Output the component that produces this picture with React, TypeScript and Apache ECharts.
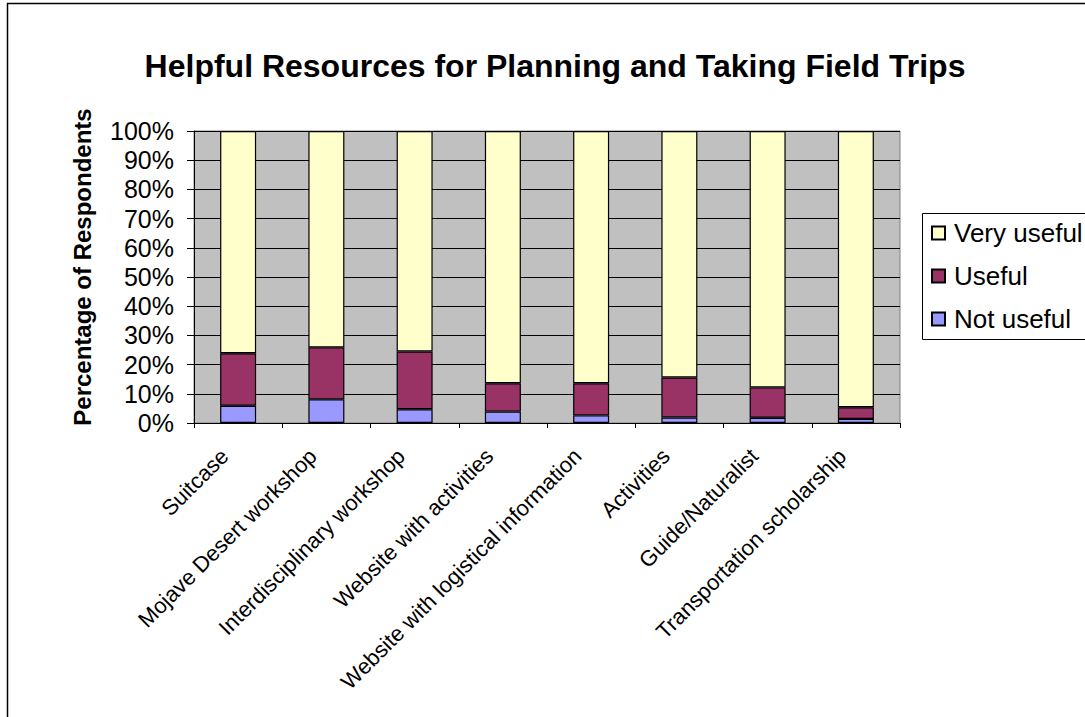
import React, { useEffect, useRef } from "react";
import * as echarts from "echarts";

const categories = [
  "Suitcase",
  "Mojave Desert workshop",
  "Interdisciplinary workshop",
  "Website with activities",
  "Website with logistical information",
  "Activities",
  "Guide/Naturalist",
  "Transportation scholarship",
];
const notUseful = [5.9, 8.1, 4.7, 3.9, 2.6, 1.9, 1.8, 1.4];
const useful = [18.0, 17.8, 19.8, 9.7, 11.0, 13.7, 10.4, 4.0];
const veryUseful = [76.1, 74.1, 75.5, 86.4, 86.4, 84.4, 87.8, 94.6];
const seriesNames = ["Not useful", "Useful", "Very useful"];
const legendOrder = ["Very useful", "Useful", "Not useful"];
const colors = ["#9999FF", "#993366", "#FFFFCC"];

const FONT = "'Liberation Sans', Arial, sans-serif";

export default function App() {
  const ref = useRef<HTMLDivElement>(null);
  useEffect(() => {
    const chart = echarts.init(ref.current!, null, { renderer: "svg" });
    const data = [notUseful, useful, veryUseful];
    chart.setOption({
      animation: false,
      backgroundColor: "#ffffff",
      textStyle: { fontFamily: FONT, color: "#000" },
      graphic: [
        {
          type: "rect",
          shape: { x: 7.5, y: 3.5, width: 1200, height: 1000 },
          style: { fill: "none", stroke: "#000", lineWidth: 1.5 },
          silent: true,
        },
        {
          type: "rect",
          shape: { x: 922.5, y: 213.5, width: 300, height: 126 },
          style: { fill: "#fff", stroke: "#000", lineWidth: 1 },
          silent: true,
        },
        {
          type: "text",
          x: 555,
          y: 66,
          style: {
            text: "Helpful Resources for Planning and Taking Field Trips",
            fontFamily: FONT,
            fontWeight: "bold",
            fontSize: 32,
            fill: "#000",
            textAlign: "center",
            textVerticalAlign: "middle",
          },
        },
        {
          type: "text",
          x: 82,
          y: 267,
          rotation: Math.PI / 2,
          style: {
            text: "Percentage of Respondents",
            fontFamily: FONT,
            fontWeight: "bold",
            fontSize: 24,
            fill: "#000",
            textAlign: "center",
            textVerticalAlign: "middle",
          },
        },
      ],
      legend: {
        data: legendOrder,
        orient: "vertical",
        left: 931,
        top: 220,
        padding: 0,
        itemGap: 17,
        itemWidth: 13,
        itemHeight: 13,
        icon: "rect",
        textStyle: { fontFamily: FONT, fontSize: 26, color: "#000", padding: [0, 0, 0, 4] },
        z: 10,
      },
      grid: {
        left: 194,
        right: 185,
        top: 131,
        bottom: 294,
        show: true,
        backgroundColor: "#C0C0C0",
        borderColor: "#808080",
        borderWidth: 1,
      },
      xAxis: {
        type: "category",
        data: categories,
        axisLine: { lineStyle: { color: "#000", width: 1 } },
        axisTick: { show: true, length: 5, lineStyle: { color: "#000" } },
        axisLabel: {
          rotate: 45,
          interval: 0,
          fontSize: 22,
          fontFamily: FONT,
          color: "#000",
          margin: 16,
          padding: [0, 19, 0, 0],
        },
      },
      yAxis: {
        type: "value",
        min: 0,
        max: 100,
        interval: 10,
        axisLine: { show: true, lineStyle: { color: "#000", width: 1 } },
        axisTick: { show: true, length: 7, lineStyle: { color: "#000" } },
        axisLabel: {
          formatter: "{value}%",
          fontSize: 25,
          fontFamily: FONT,
          color: "#000",
          margin: 20,
        },
        splitLine: { show: true, lineStyle: { color: "#000", width: 1 } },
      },
      series: seriesNames.map((name, i) => ({
        name,
        type: "bar",
        stack: "total",
        barWidth: 36,
        data: data[i],
        itemStyle: { color: colors[i], borderColor: "#000", borderWidth: 1.2 },
      })),
    });
    return () => chart.dispose();
  }, []);
  return (
    <div
      ref={ref}
      style={{ position: "fixed", left: 0, top: 0, width: 1085, height: 717 }}
    />
  );
}
